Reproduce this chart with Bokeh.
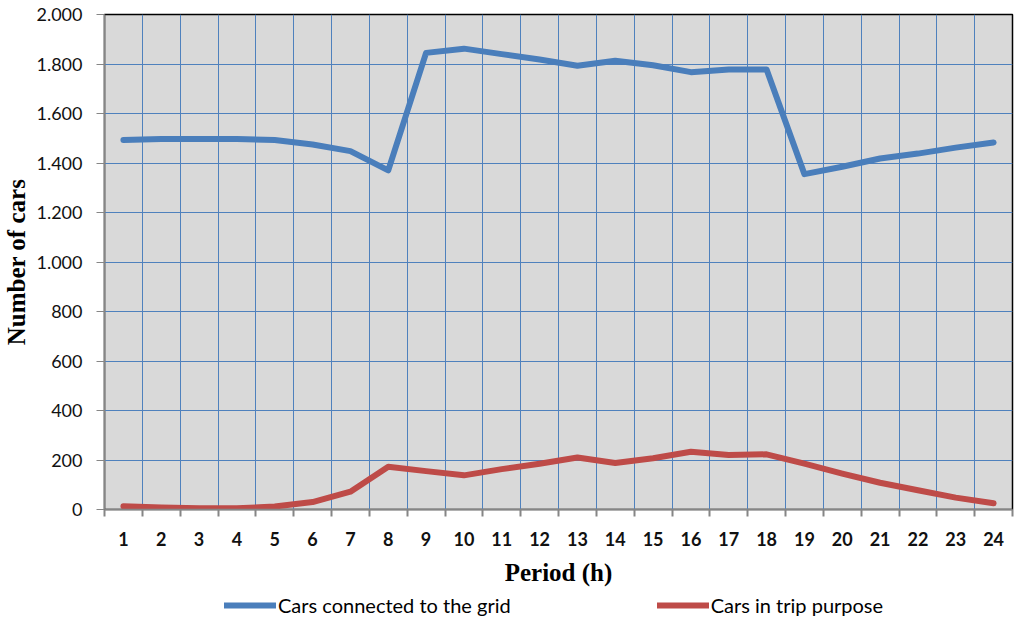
from bokeh.plotting import figure
from bokeh.embed import file_html
from bokeh.resources import INLINE
from bokeh.layouts import column
from bokeh.models import FixedTicker, Range1d, Legend, LegendItem

periods = list(range(1, 25))
connected = [1493, 1497, 1497, 1497, 1493, 1475, 1448, 1370, 1845, 1862, 1840, 1818,
             1793, 1813, 1795, 1767, 1778, 1778, 1355, 1385, 1418, 1438, 1462, 1483]
in_trip = [13, 8, 5, 5, 12, 30, 72, 173, 155, 138, 163, 185,
           210, 188, 207, 233, 220, 223, 185, 145, 108, 78, 48, 25]
y_ticks = [0, 200, 400, 600, 800, 1000, 1200, 1400, 1600, 1800, 2000]
y_tick_labels = ["0", "200", "400", "600", "800", "1.000", "1.200", "1.400", "1.600", "1.800", "2.000"]
x_tick_labels = [str(p) for p in periods]
series_names = ["Cars connected to the grid", "Cars in trip purpose"]
series_colors = ["#4a7ebb", "#be4b48"]
series_values = [connected, in_trip]

W = 1017
p = figure(width=W, height=589, output_backend="svg", toolbar_location=None,
           x_range=Range1d(0.5, 24.5), y_range=Range1d(0, 2000),
           min_border_left=102, min_border_right=5, min_border_top=14, min_border_bottom=80)
p.background_fill_color = "#d9d9d9"
p.border_fill_color = "white"
p.outline_line_color = "black"
p.outline_line_width = 1.5

bounds = [i + 0.5 for i in range(0, 25)]
p.xaxis.ticker = FixedTicker(ticks=periods, minor_ticks=bounds)
p.xaxis.major_label_overrides = {p_: l for p_, l in zip(periods, x_tick_labels)}
p.xaxis.major_tick_out = 0
p.xaxis.major_tick_in = 0
p.xaxis.minor_tick_out = 7
p.xaxis.minor_tick_in = 0
p.xaxis.minor_tick_line_color = "#868686"
p.xaxis.minor_tick_line_width = 2
p.xaxis.axis_line_color = "#868686"
p.xaxis.axis_line_width = 1.5
p.xaxis.major_label_standoff = 15
p.xaxis.major_label_text_font = "Lato"
p.xaxis.major_label_text_font_size = "18px"
p.xaxis.major_label_text_font_style = "bold"
p.xaxis.major_label_text_color = "#111111"
p.xaxis.axis_label = "Period (h)"
p.xaxis.axis_label_text_font = "Liberation Serif"
p.xaxis.axis_label_text_font_style = "bold"
p.xaxis.axis_label_text_font_size = "25px"
p.xaxis.axis_label_text_color = "black"
p.xaxis.axis_label_standoff = 10

p.yaxis.ticker = FixedTicker(ticks=y_ticks)
p.yaxis.major_label_overrides = {t: l for t, l in zip(y_ticks, y_tick_labels)}
p.yaxis.major_tick_out = 8
p.yaxis.major_tick_in = 0
p.yaxis.minor_tick_line_color = None
p.yaxis.major_tick_line_color = "#868686"
p.yaxis.axis_line_color = "#868686"
p.yaxis.axis_line_width = 1.5
p.yaxis.major_label_standoff = 14
p.yaxis.major_label_text_font = "Lato"
p.yaxis.major_label_text_font_size = "18px"
p.yaxis.major_label_text_color = "#111111"
p.yaxis.axis_label = "Number of cars"
p.yaxis.axis_label_text_font = "Liberation Serif"
p.yaxis.axis_label_text_font_style = "bold"
p.yaxis.axis_label_text_font_size = "25px"
p.yaxis.axis_label_text_color = "black"
p.yaxis.axis_label_standoff = 3

p.xgrid.grid_line_color = None
p.xgrid.minor_grid_line_color = "#4f81bd"
p.xgrid.minor_grid_line_width = 1
p.ygrid.grid_line_color = "#4f81bd"
p.ygrid.grid_line_width = 1

for vals, col in zip(series_values, series_colors):
    p.line(periods, vals, line_color=col, line_width=6, line_join="round", line_cap="round")

# legend strip below the chart (its lines fall outside this strip's range)
lg = figure(width=W, height=32, output_backend="svg", toolbar_location=None,
            x_range=Range1d(0, 1), y_range=Range1d(-2, -1),
            x_axis_location=None, y_axis_location=None,
            min_border_left=0, min_border_right=0, min_border_top=0, min_border_bottom=0)
lg.outline_line_color = None
lg.xgrid.visible = False
lg.ygrid.visible = False
items = []
for name, vals, col in zip(series_names, series_values, series_colors):
    rr = lg.line(periods, vals, line_color=col, line_width=6, line_cap="round")
    items.append(LegendItem(label=name, renderers=[rr]))
legend = Legend(items=items, orientation="horizontal", location=(120, 4),
                background_fill_alpha=0, border_line_color=None,
                label_text_font="Lato", label_text_font_size="20px",
                label_text_color="black", label_height=20, glyph_height=20,
                glyph_width=52, label_standoff=2, spacing=146, padding=0, margin=0)
lg.add_layout(legend, "center")

layout = column(p, lg, spacing=0)
open("out.html", "w").write(file_html(layout, INLINE))
